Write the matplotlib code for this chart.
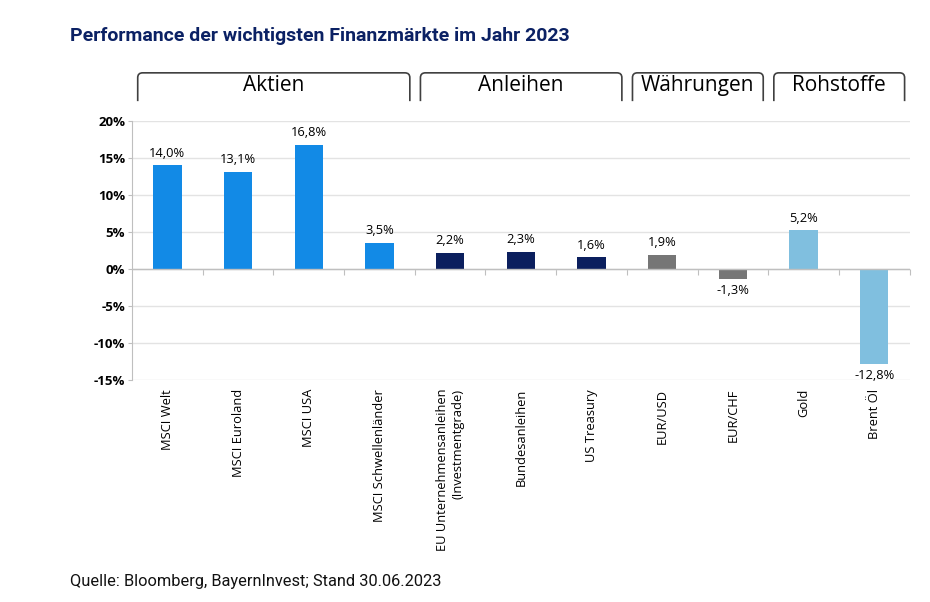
import matplotlib
matplotlib.use("Agg")
from matplotlib import pyplot as plt
from matplotlib import transforms
from matplotlib.path import Path
from matplotlib.patches import PathPatch
from matplotlib.ticker import FuncFormatter

# Daten
kategorien = ["MSCI Welt", "MSCI Euroland", "MSCI USA", "MSCI Schwellenländer",
              "EU Unternehmensanleihen\n(Investmentgrade)", "Bundesanleihen", "US Treasury",
              "EUR/USD", "EUR/CHF", "Gold", "Brent Öl"]
werte = [14.0, 13.1, 16.8, 3.5, 2.2, 2.3, 1.6, 1.9, -1.3, 5.2, -12.8]
gruppen = ["Aktien", "Anleihen", "Währungen", "Rohstoffe"]
gruppen_index = [0, 0, 0, 0, 1, 1, 1, 2, 2, 3, 3]
gruppen_farben = ["#128AE6", "#0B1F5E", "#767676", "#80BFDF"]
y_ticks = [20, 15, 10, 5, 0, -5, -10, -15]

LABEL_FONT = ["Open Sans", "DejaVu Sans"]
NARROW_FONT = ["Roboto", "DejaVu Sans"]

fig = plt.figure(figsize=(9.3, 6.02), dpi=100)
ax = fig.add_axes([0.142, 0.369, 0.836, 0.430])

x = list(range(len(kategorien)))
farben = [gruppen_farben[g] for g in gruppen_index]
ax.bar(x, werte, width=0.4, color=farben, zorder=3)

ax.set_xlim(-0.5, len(kategorien) - 0.5)
ax.set_ylim(-15, 20)
ax.set_yticks(y_ticks)
ax.yaxis.set_major_formatter(FuncFormatter(lambda v, p: f"{v:.0f}%"))
for lab in ax.get_yticklabels():
    lab.set_fontfamily(LABEL_FONT)
    lab.set_fontweight("bold")
    lab.set_fontsize(9.5)
ax.tick_params(axis="y", length=3, color="#BFBFBF", pad=2)
ax.grid(axis="y", color="#E3E3E3", linewidth=1, zorder=0)

for s in ["top", "right", "bottom"]:
    ax.spines[s].set_visible(False)
ax.spines["left"].set_color("#BFBFBF")

# Kategorien unten
ax.set_xticks(x)
ax.set_xticklabels([])
ax.tick_params(axis="x", length=0)
trans_x = transforms.blended_transform_factory(ax.transData, ax.transAxes)
for i, name in enumerate(kategorien):
    ax.text(i, -0.035, name, transform=trans_x, rotation=90, ha="center", va="top",
            multialignment="right", fontsize=9.3, fontfamily=LABEL_FONT)

# Nulllinie mit Teilstrichen
ax.axhline(0, color="#BFBFBF", linewidth=1, zorder=4)
sec = ax.secondary_xaxis(15 / 35)
sec.set_xticks([i + 0.5 for i in x])
sec.set_xticklabels([])
sec.tick_params(axis="x", length=4, color="#BFBFBF", direction="out")
sec.spines["bottom"].set_visible(False)

# Werte
for i, v in enumerate(werte):
    txt = f"{v:.1f}%".replace(".", ",")
    if v >= 0:
        ax.annotate(txt, (i, v), xytext=(0, 4), textcoords="offset points",
                    ha="center", va="bottom", fontsize=9.3, fontfamily=LABEL_FONT)
    else:
        ax.annotate(txt, (i, v), xytext=(0, -4), textcoords="offset points",
                    ha="center", va="top", fontsize=9.3, fontfamily=LABEL_FONT)

# Gruppenklammern mit abgerundeten Ecken
trans_b = transforms.blended_transform_factory(ax.transData, fig.transFigure)
y_unten, y_oben = 0.832, 0.879
rx, ry = 0.07, 0.008
for g, name in enumerate(gruppen):
    idx = [i for i, gi in enumerate(gruppen_index) if gi == g]
    x0, x1 = idx[0] - 0.42, idx[-1] + 0.43
    verts = [(x0, y_unten), (x0, y_oben - ry), (x0, y_oben), (x0 + rx, y_oben),
             (x1 - rx, y_oben), (x1, y_oben), (x1, y_oben - ry), (x1, y_unten)]
    codes = [Path.MOVETO, Path.LINETO, Path.CURVE3, Path.CURVE3,
             Path.LINETO, Path.CURVE3, Path.CURVE3, Path.LINETO]
    ax.add_patch(PathPatch(Path(verts, codes), transform=trans_b, fill=False,
                           edgecolor="#404040", linewidth=1.2, clip_on=False))
    ax.text((x0 + x1) / 2, 0.840, name, transform=trans_b, ha="center", va="bottom",
            fontsize=15, fontfamily=LABEL_FONT)

fig.text(0.075, 0.925, "Performance der wichtigsten Finanzmärkte im Jahr 2023",
         fontsize=14, fontweight="bold", color="#0B2164", fontfamily=NARROW_FONT, va="bottom")
fig.text(0.075, 0.022, "Quelle: Bloomberg, BayernInvest; Stand 30.06.2023",
         fontsize=11.8, color="#111111", fontfamily=NARROW_FONT, va="bottom")

fig.savefig("out.png", dpi=100, facecolor="white")
